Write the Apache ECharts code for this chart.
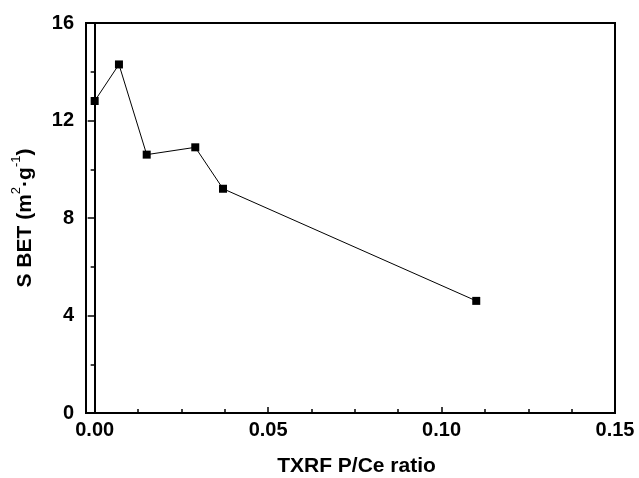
<!DOCTYPE html>
<html><head><meta charset="utf-8">
<script src="https://cdn.jsdelivr.net/npm/echarts@6/dist/echarts.min.js"></script>
<style>html,body{margin:0;padding:0;background:#fff}#c{width:639px;height:478px}</style>
</head><body><div id="c"></div>
<script>
var xValues = [0, 0.007, 0.015, 0.029, 0.037, 0.110];
var yValues = [12.8, 14.3, 10.6, 10.9, 9.2, 4.6];
var xMajorTicks = [0, 0.05, 0.10, 0.15];
var xMinorTicks = [0.0125, 0.025, 0.0375, 0.0625, 0.075, 0.0875, 0.1125, 0.125, 0.1375];
var xRange = [-0.0025, 0.15];
var yRange = [0, 16];
var yInterval = 4;
var xTitle = 'TXRF P/Ce ratio';

var font = 'Liberation Sans, Arial, sans-serif';
var chart = echarts.init(document.getElementById('c'));
var pts = xValues.map(function(x, i){ return [x, yValues[i]]; });
chart.setOption({
  animation: false,
  grid: {left: 86, right: 24, top: 23, bottom: 65, show: true, borderColor: '#000', borderWidth: 2, backgroundColor: 'transparent',
    containLabel: false, outerBoundsMode: 'none'},
  xAxis: [{
    type: 'value', min: xRange[0], max: xRange[1],
    name: xTitle, nameLocation: 'middle', nameGap: 43,
    nameTextStyle: {fontFamily: font, fontWeight: 'bold', fontSize: 21, color: '#000', padding: [0, 0, 0, 12]},
    axisLine: {show: true, lineStyle: {color: '#000', width: 2}},
    axisTick: {show: true, inside: true, length: 6, lineStyle: {color: '#000', width: 1.5}, customValues: xMajorTicks},
    axisLabel: {show: true, margin: 7, customValues: xMajorTicks, fontFamily: font, fontWeight: 'bold', fontSize: 20, color: '#000',
      formatter: function(v){ return v.toFixed(2); }},
    splitLine: {show: false}
  }, {
    type: 'value', min: xRange[0], max: xRange[1], position: 'bottom', gridIndex: 0,
    axisLine: {show: false},
    axisTick: {show: true, inside: true, length: 4, lineStyle: {color: '#000', width: 1.5}, customValues: xMinorTicks},
    axisLabel: {show: false},
    splitLine: {show: false}
  }],
  yAxis: {
    type: 'value', min: yRange[0], max: yRange[1], interval: yInterval,
    name: '{b|S BET (m}{s|2}{b|·g}{s|-1}{b|)}', nameLocation: 'middle', nameGap: 50, nameRotate: 90,
    nameTextStyle: {fontFamily: font, fontWeight: 'bold', fontSize: 21, color: '#000',
      rich: {
        b: {fontFamily: font, fontWeight: 'bold', fontSize: 21, color: '#000', lineHeight: 26, verticalAlign: 'bottom'},
        s: {fontFamily: font, fontWeight: 'normal', fontSize: 13, color: '#000', lineHeight: 26, verticalAlign: 'top', padding: [0, 0, 12, 0]}
      }},
    axisLine: {show: true, lineStyle: {color: '#000', width: 2}},
    axisTick: {show: true, inside: false, length: 7, lineStyle: {color: '#000', width: 1.5}},
    minorTick: {show: true, splitNumber: 2, length: 4, lineStyle: {color: '#000', width: 1.5}},
    axisLabel: {margin: 12, fontFamily: font, fontWeight: 'bold', fontSize: 20, color: '#000'},
    splitLine: {show: false}
  },
  series: [{
    type: 'line', data: pts, xAxisIndex: 0,
    symbol: 'rect', symbolSize: 8, showSymbol: true,
    itemStyle: {color: '#000'},
    lineStyle: {color: '#000', width: 1},
    markLine: {silent: true, symbol: 'none', label: {show: false},
      lineStyle: {color: '#000', width: 1.5, type: 'solid'},
      data: [{xAxis: 0}]},
    z: 3
  }]
});
</script></body></html>
